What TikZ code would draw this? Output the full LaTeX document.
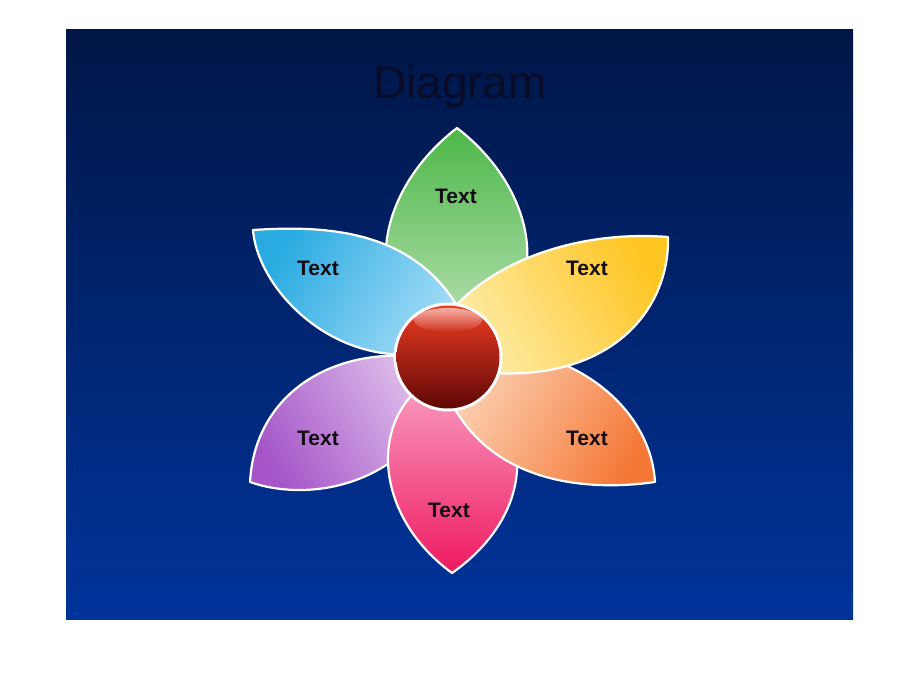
\documentclass[tikz,border=0pt]{standalone}
\usepackage{fontspec}
\setmainfont{Liberation Sans}
\usetikzlibrary{fadings}
\definecolor{bgtop}{RGB}{0,22,70}
\definecolor{bgbot}{RGB}{0,52,155}
\definecolor{titlec}{RGB}{8,12,40}
\definecolor{lbltext}{RGB}{20,12,20}
\definecolor{greenT}{RGB}{76,184,72}
\definecolor{greenP}{RGB}{195,228,190}
\definecolor{blueT}{RGB}{41,171,226}
\definecolor{blueP}{RGB}{170,222,247}
\definecolor{purpleT}{RGB}{165,85,200}
\definecolor{purpleP}{RGB}{228,200,238}
\definecolor{pinkT}{RGB}{238,25,95}
\definecolor{pinkP}{RGB}{250,165,200}
\definecolor{orangeT}{RGB}{245,120,55}
\definecolor{orangeP}{RGB}{252,210,180}
\definecolor{yellowT}{RGB}{255,198,35}
\definecolor{yellowP}{RGB}{253,238,175}
\definecolor{ballT}{RGB}{238,60,35}
\definecolor{ballM}{RGB}{222,40,12}
\definecolor{ballB}{RGB}{95,8,5}
\tikzset{
  petal/.style={draw=white, line width=2.2pt, line join=round},
  lbl/.style={font=\bfseries\fontsize{21}{25}\selectfont, text=lbltext, inner sep=0pt},
}
\begin{document}
\begin{tikzpicture}[x=1pt,y=1pt]
\useasboundingbox (0,0) rectangle (920,690);
\fill[white] (0,0) rectangle (920,690);
\shade[top color=bgtop, bottom color=bgbot] (66,70) rectangle (853,660);
\node[font=\fontsize{46}{50}\selectfont, text=titlec, anchor=base, inner sep=0pt] (title) at (460,591) {Diagram};
% petals
\path[petal, top color=greenT, bottom color=greenP, shading angle=0]
  (455,335) .. controls (355,380) and (370,495) .. (457,562)
  .. controls (544,495) and (558,380) .. (455,335) -- cycle;
\path[petal, top color=blueT, bottom color=blueP, shading angle=60]
  (465,370) .. controls (420,460) and (330,465) .. (253,460)
  .. controls (258,398) and (340,315) .. (440,340) -- cycle;
\path[petal, top color=purpleT, bottom color=purpleP, shading angle=120]
  (440,330) .. controls (340,350) and (255,300) .. (250,208)
  .. controls (300,190) and (400,195) .. (450,300) -- cycle;
\path[petal, top color=pinkT, bottom color=pinkP, shading angle=180]
  (450,320) .. controls (368,290) and (366,180) .. (452,117)
  .. controls (535,175) and (540,270) .. (460,320) -- cycle;
\path[petal, top color=orangeT, bottom color=orangeP, shading angle=-120]
  (470,340) .. controls (560,350) and (650,290) .. (655,208)
  .. controls (600,200) and (495,200) .. (450,290) -- cycle;
\path[petal, top color=yellowT, bottom color=yellowP, shading angle=-60]
  (440,365) .. controls (485,430) and (580,460) .. (668,453)
  .. controls (670,380) and (610,305) .. (480,318) -- cycle;
% labels
\node[lbl] (tg) at (456,494) {Text};
\node[lbl] (tb) at (318,422) {Text};
\node[lbl] (ty) at (587,422) {Text};
\node[lbl] (tp) at (318,252) {Text};
\node[lbl] (to) at (587,252) {Text};
\node[lbl] (tk) at (449,180) {Text};
% ball
\fill[white] (448,333) circle (54.5);
\shade[top color=ballT, middle color=ballM, bottom color=ballB] (448,333) circle (51.5);
\fill[white, path fading=south, fill opacity=0.6] (448,370) ellipse (34 and 12);
\end{tikzpicture}
\end{document}
